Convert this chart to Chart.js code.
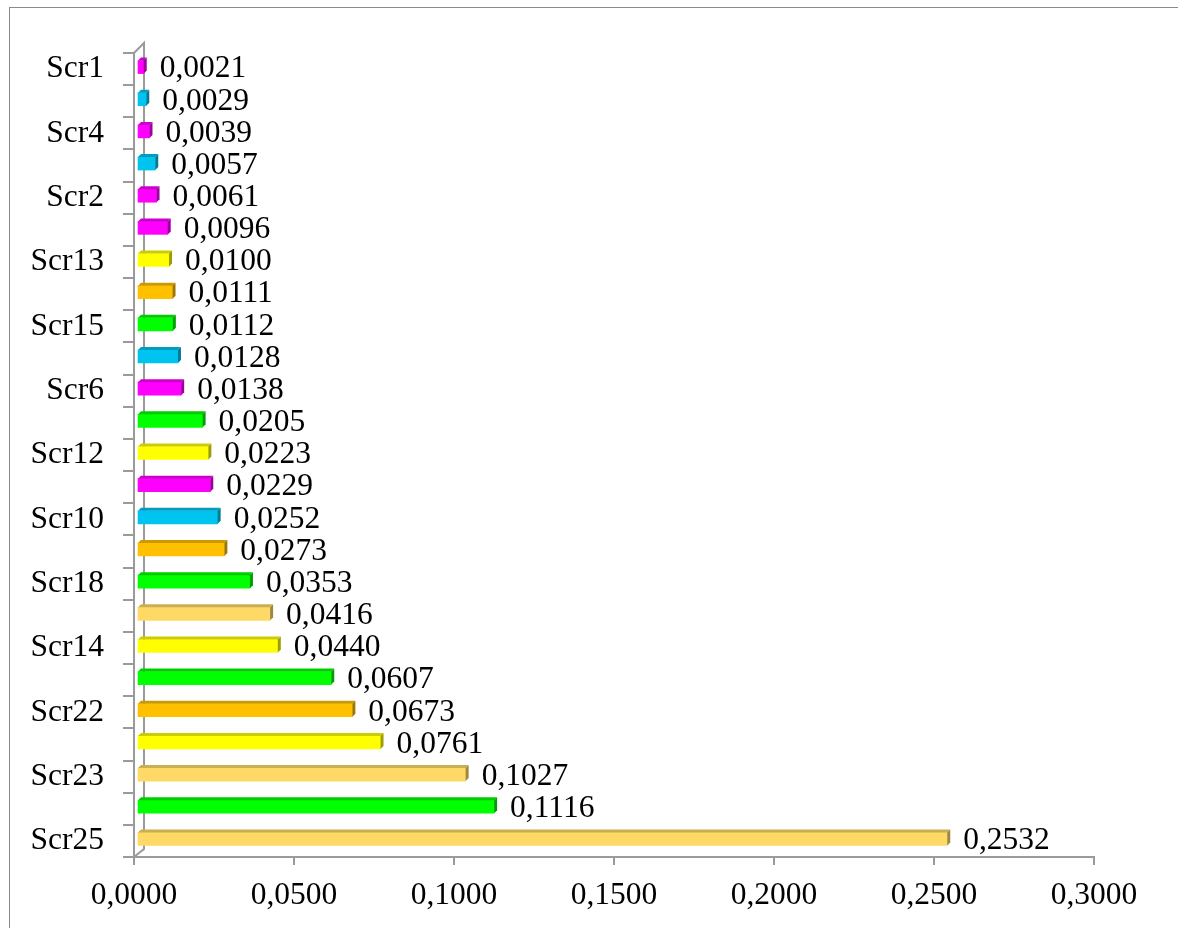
<!DOCTYPE html>
<html>
<head>
<meta charset="utf-8">
<script src="https://cdn.jsdelivr.net/npm/chart.js@4.4.1/dist/chart.umd.min.js"></script>
<style>
body{margin:0;background:#fff;}
#frame{position:absolute;left:9px;top:7px;right:0;bottom:0;border-left:1px solid #8a8a8a;border-top:1px solid #8a8a8a;}
canvas{position:absolute;left:0;top:0;}
</style>
</head>
<body>
<div id="frame"></div>
<canvas id="rankChart" width="1178" height="928"></canvas>
<script>
// top to bottom; only every other name is printed on the chart,
// the unprinted ones are a guess
const categories = ['Scr1','Scr3','Scr4','Scr5','Scr2','Scr7','Scr13','Scr8','Scr15','Scr9',
  'Scr6','Scr11','Scr12','Scr16','Scr10','Scr17','Scr18','Scr19','Scr14','Scr20',
  'Scr22','Scr21','Scr23','Scr24','Scr25'];
const values = [0.0021,0.0029,0.0039,0.0057,0.0061,0.0096,0.0100,0.0111,0.0112,0.0128,
  0.0138,0.0205,0.0223,0.0229,0.0252,0.0273,0.0353,0.0416,0.0440,0.0607,
  0.0673,0.0761,0.1027,0.1116,0.2532];
const xTicks = [0,0.05,0.1,0.15,0.2,0.25,0.3];

const MAG='#FF00FF', CYA='#00C4F0', YEL='#FFFF00', ORA='#FFC000', GRN='#00FF00', TAN='#FFD966';
const barColors = [MAG,CYA,MAG,CYA,MAG,MAG,YEL,ORA,GRN,CYA,MAG,GRN,YEL,MAG,CYA,ORA,GRN,TAN,YEL,GRN,ORA,YEL,TAN,GRN,TAN];

const fmt = v => v.toFixed(4).replace('.', ',');
const FONT = '"Liberation Serif", "Times New Roman", serif';
const FSIZE = 31.5;

function shade(hex, f){
  const n = parseInt(hex.slice(1),16);
  const r = Math.round(((n>>16)&255)*f), g = Math.round(((n>>8)&255)*f), b = Math.round((n&255)*f);
  return 'rgb('+r+','+g+','+b+')';
}

const bars3d = {
  id:'bars3d',
  beforeDatasetsDraw(chart){
    const ctx = chart.ctx, a = chart.chartArea;
    // back wall edge
    ctx.save();
    ctx.strokeStyle = '#9a9a9a';
    ctx.lineWidth = 2;
    ctx.beginPath();
    ctx.moveTo(a.left, a.top);
    ctx.lineTo(a.left+10, a.top-10);
    ctx.lineTo(a.left+10, a.bottom-8);
    ctx.lineTo(a.left, a.bottom);
    ctx.stroke();
    ctx.restore();
    ctx.save();
    ctx.translate(3,-2);
  },
  afterDatasetsDraw(chart){
    const ctx = chart.ctx;
    const meta = chart.getDatasetMeta(0);
    const d = 3;
    meta.data.forEach((bar,i)=>{
      const p = bar.getProps(['x','y','base','height'], true);
      const top = p.y - p.height/2, bot = p.y + p.height/2;
      const x0 = p.base, x1 = p.x;
      ctx.fillStyle = shade(barColors[i], 0.8);
      ctx.beginPath();
      ctx.moveTo(x0,top); ctx.lineTo(x0+d,top-d); ctx.lineTo(x1+d,top-d); ctx.lineTo(x1,top);
      ctx.closePath(); ctx.fill();
      ctx.fillStyle = shade(barColors[i], 0.62);
      ctx.beginPath();
      ctx.moveTo(x1,top); ctx.lineTo(x1+d,top-d); ctx.lineTo(x1+d,bot-d); ctx.lineTo(x1,bot);
      ctx.closePath(); ctx.fill();
    });
    ctx.restore();

    // value labels
    ctx.save();
    ctx.font = FSIZE + 'px ' + FONT;
    ctx.fillStyle = '#000';
    ctx.textBaseline = 'middle';
    ctx.textAlign = 'left';
    meta.data.forEach((bar,i)=>{
      ctx.fillText(fmt(values[i]), bar.x+19, bar.y);
    });
    ctx.restore();
  }
};

new Chart(document.getElementById('rankChart'),{
  type:'bar',
  data:{
    labels:categories,
    datasets:[{
      data:values,
      backgroundColor:barColors,
      borderWidth:0,
      barThickness:13
    }]
  },
  options:{
    indexAxis:'y',
    responsive:false,
    animation:false,
    layout:{padding:{top:53,right:84,left:0,bottom:0}},
    plugins:{legend:{display:false},tooltip:{enabled:false}},
    scales:{
      x:{
        min:0,max:0.3,
        afterFit:s=>{s.height=71;},
        afterBuildTicks:s=>{s.ticks=xTicks.map(v=>({value:v}));},
        ticks:{color:'#000',font:{family:FONT,size:FSIZE},padding:12,callback:v=>fmt(v)},
        grid:{drawOnChartArea:false,tickLength:8,color:'#9a9a9a',lineWidth:2},
        border:{color:'#9a9a9a',width:2}
      },
      y:{
        afterFit:s=>{s.width=134;},
        ticks:{color:'#000',font:{family:FONT,size:FSIZE},padding:19,autoSkip:false,
          callback:(v,i)=> i%2===0 ? categories[i] : ''},
        grid:{drawOnChartArea:false,offset:true,tickLength:11,color:'#9a9a9a',lineWidth:2},
        border:{color:'#9a9a9a',width:2}
      }
    }
  },
  plugins:[bars3d]
});
</script>
</body>
</html>
